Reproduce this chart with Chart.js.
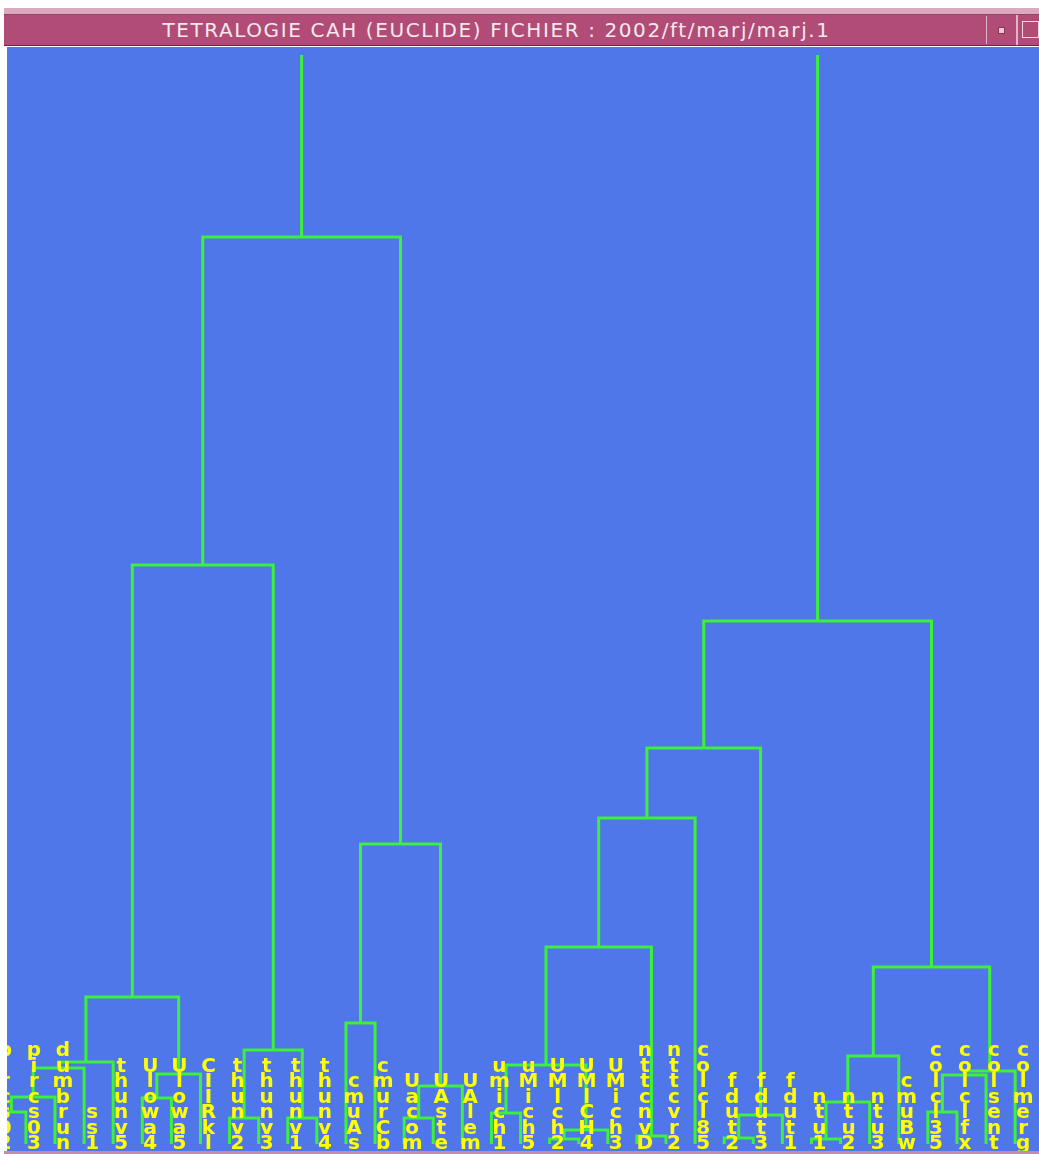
<!DOCTYPE html>
<html>
<head>
<meta charset="utf-8">
<title>CAH marj.1</title>
<script src="https://cdn.jsdelivr.net/npm/chart.js@4.4.1/dist/chart.umd.min.js"></script>
<style>
  body { margin: 0; width: 1039px; height: 1154px; background: #ffffff; position: relative; overflow: hidden; }
  #frameTop { position: absolute; left: 4px; top: 8px; width: 1035px; height: 6px; background: #dcaac0; border-bottom: 1px solid #9c4066; }
  #titleBar { position: absolute; left: 4px; top: 15px; width: 1035px; height: 31px; background: #b14c76; border-bottom: 1px solid #6e2444; box-sizing: border-box; }
  #titleText { position: absolute; left: 0; top: 0; width: 985px; line-height: 31px; text-align: center; color: #f6e8ee; font-family: "DejaVu Sans", sans-serif; font-size: 20px; letter-spacing: 1.6px; white-space: nowrap; }
  #btnMin { position: absolute; left: 982px; top: 1px; width: 26px; height: 28px; border-left: 1px solid #e2b4c8; box-sizing: border-box; }
  #btnMin span { position: absolute; left: 11px; top: 11px; width: 5px; height: 5px; background: #e8c8d6; border: 1px solid #8a3458; }
  #btnMax { position: absolute; left: 1012px; top: 0; width: 23px; height: 30px; border-left: 2px solid #e2b4c8; box-sizing: border-box; }
  #btnMax span { position: absolute; left: 4px; top: 6px; width: 17px; height: 17px; border: 1px solid #f0d8e2; box-sizing: border-box; }
  #plot { position: absolute; left: 7px; top: 47px; width: 1032px; height: 1104px; background: #4f77e9; }
  #bottomEdge { position: absolute; left: 4px; top: 1151px; width: 1035px; height: 3px; background: #c88aa6; }
</style>
</head>
<body>
<div id="frameTop"></div>
<div id="titleBar">
  <div id="titleText">TETRALOGIE CAH (EUCLIDE) FICHIER : 2002/ft/marj/marj.1</div>
  <div id="btnMin"><span></span></div>
  <div id="btnMax"><span></span></div>
</div>
<div id="plot"><canvas id="dendro"></canvas></div>
<div id="bottomEdge"></div>
<script>
// leaves, in the order they sit along the axis
const leafLabels = [
  'pircs02', 'pircs03', 'dumbrun', 'ss1', 'thunv5', 'Ulowa4', 'Ulowa5', 'CIIRkl',
  'thunv2', 'thunv3', 'thunv1', 'thunv4', 'cmuAs', 'cmurCb', 'Uacom', 'UAste', 'UAlem',
  'umich1', 'uMich5', 'UMlch2', 'UMlCH4', 'UMich3', 'nttcnvD', 'nttcvr2', 'colcl85',
  'fdut2', 'fdut3', 'fdut1', 'ntu1', 'ntu2', 'ntu3', 'cmuBw',
  'colcl35', 'colclfx', 'colsent', 'colmerg'
];

// agglomeration steps: [node a, node b, height]; node n >= 36 is the cluster built at step n - 36
const merges = [
  [19, 20, 0.5], [28, 29, 0.5], [25, 26, 0.6], [22, 23, 0.8], [36, 21, 1.4],
  [8, 9, 2.6], [10, 11, 2.6], [14, 15, 2.6], [38, 27, 2.9], [17, 18, 3.1],
  [0, 1, 3.2], [32, 33, 3.2], [37, 30, 4.2], [5, 6, 4.6], [46, 2, 4.7],
  [43, 16, 5.8], [47, 34, 6.9], [49, 7, 7.0], [52, 35, 7.3], [50, 3, 7.6],
  [45, 40, 7.9], [55, 4, 8.2], [48, 31, 8.8], [41, 42, 9.4], [12, 13, 12.1],
  [57, 53, 14.7], [58, 54, 17.7], [56, 39, 19.7], [60, 51, 30.0], [63, 24, 32.6],
  [65, 44, 39.6], [66, 62, 52.3], [61, 59, 57.9], [68, 64, 90.7], [69, 67, 120]
];

const lineColor = '#3cf03c';
const labelColor = '#ffff00';

// node positions: leaves at their index, clusters centred over their two children
const nodeX = leafLabels.map((_, i) => i);
const nodeH = leafLabels.map(() => 0);
const links = [];
merges.forEach(([a, b, h]) => {
  links.push([
    { x: nodeX[a], y: nodeH[a] },
    { x: nodeX[a], y: h },
    { x: nodeX[b], y: h },
    { x: nodeX[b], y: nodeH[b] }
  ]);
  nodeX.push((nodeX[a] + nodeX[b]) / 2);
  nodeH.push(h);
});

// names written one letter per row, ending at the foot of each leaf
const leafLabelPlugin = {
  id: 'leafLabels',
  afterDatasetsDraw(chart) {
    const { ctx, scales: { x, y } } = chart;
    const base = y.getPixelForValue(0) + 5;
    ctx.save();
    ctx.fillStyle = labelColor;
    ctx.font = 'bold 20px "DejaVu Sans"';
    ctx.textAlign = 'center';
    ctx.textBaseline = 'alphabetic';
    leafLabels.forEach((label, i) => {
      const cx = x.getPixelForValue(i) + 8;
      const chars = [...label];
      chars.forEach((ch, k) => {
        ctx.fillText(ch, cx, base - (chars.length - 1 - k) * 15.5);
      });
    });
    ctx.restore();
  }
};

new Chart(document.getElementById('dendro'), {
  type: 'scatter',
  data: {
    datasets: links.map(pts => ({
      data: pts,
      showLine: true,
      borderColor: lineColor,
      borderWidth: 3,
      borderJoinStyle: 'miter',
      pointRadius: 0,
      fill: false,
      tension: 0
    }))
  },
  options: {
    responsive: true,
    maintainAspectRatio: false,
    animation: false,
    layout: { padding: { top: 8, bottom: 7, left: 0, right: 0 } },
    scales: {
      x: { type: 'linear', min: 0.35, max: 35.82, display: false },
      y: { type: 'linear', min: 0, max: 108.9, display: false }
    },
    plugins: {
      legend: { display: false },
      tooltip: { enabled: false }
    }
  },
  plugins: [leafLabelPlugin]
});
</script>
</body>
</html>
